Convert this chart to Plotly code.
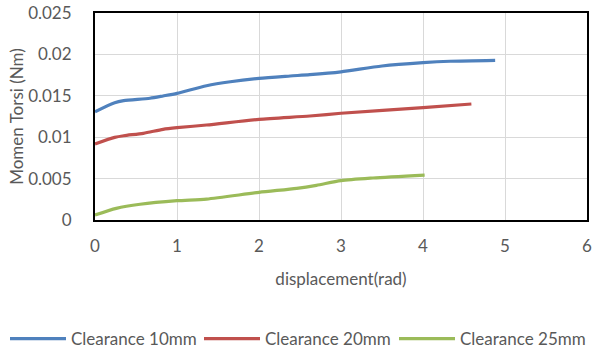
import plotly.graph_objects as go

# Displacement (rad) and torsional moment (Nm) for each clearance
x_10 = [0, 0.24, 0.35, 0.67, 0.83, 1.0, 1.36, 1.65, 2.0, 2.38, 2.62, 3.0, 3.5, 4.0, 4.33, 4.88]
y_10 = [0.01308, 0.01417, 0.01441, 0.0147, 0.01498, 0.0153, 0.01622, 0.0167, 0.01711, 0.01739,
        0.01755, 0.0179, 0.0186, 0.0190, 0.01917, 0.01928]

x_20 = [0, 0.24, 0.35, 0.59, 0.83, 1.0, 1.36, 2.0, 2.62, 3.0, 4.0, 4.59]
y_20 = [0.00918, 0.00998, 0.01018, 0.01047, 0.01095, 0.01115, 0.01147, 0.01216, 0.01256, 0.01289,
        0.01357, 0.01401]

x_25 = [0, 0.26, 0.55, 1.0, 1.36, 2.0, 2.46, 2.7, 3.0, 3.39, 4.02]
y_25 = [0.0006, 0.00141, 0.0019, 0.00233, 0.00253, 0.00334, 0.00383, 0.00419, 0.00475, 0.00507, 0.00543]

names = ["Clearance 10mm", "Clearance 20mm", "Clearance 25mm"]
colors = ["#4F81BD", "#C0504D", "#9BBB59"]

y_ticks = [0, 0.005, 0.01, 0.015, 0.02, 0.025]
y_tick_text = ["0", "0.005", "0.01", "0.015", "0.02", "0.025"]

txt = dict(family="Lato, Liberation Sans, sans-serif", size=17, color="#595959")

# one legend per series so the three entries sit side by side across the bottom
legend_ids = ["legend", "legend2", "legend3"]
legend_left = [5, 199, 394]

fig = go.Figure()
for xs, ys, name, color, lg in zip([x_10, x_20, x_25], [y_10, y_20, y_25], names, colors, legend_ids):
    fig.add_trace(go.Scatter(
        x=xs, y=ys, name=name, mode="lines", legend=lg,
        line=dict(color=color, width=3.2, shape="spline", smoothing=0.7),
    ))

legend_cfg = {}
for lg, left in zip(legend_ids, legend_left):
    legend_cfg[lg] = dict(orientation="h", xref="container", x=left / 594, xanchor="left",
                          yref="container", y=(348 - 339) / 348, yanchor="middle",
                          font=txt, itemwidth=56, bgcolor="rgba(0,0,0,0)")

fig.update_layout(
    width=594, height=348,
    margin=dict(l=95, r=7, t=13, b=128, autoexpand=False),
    paper_bgcolor="white", plot_bgcolor="white",
    font=txt,
    showlegend=True,
    **legend_cfg,
)
fig.update_xaxes(
    range=[0, 6], dtick=1, tick0=0,
    showgrid=True, gridcolor="#D9D9D9", gridwidth=1.3,
    showline=True, linecolor="black", linewidth=2, mirror=True,
    zeroline=False, ticks="", tickfont=txt, ticklabelstandoff=10,
    title=dict(text="displacement(rad)", font=txt, standoff=18),
)
fig.update_yaxes(
    range=[0, 0.025], tickvals=y_ticks, ticktext=y_tick_text,
    showgrid=True, gridcolor="#D9D9D9", gridwidth=1.3,
    showline=True, linecolor="black", linewidth=2, mirror=True,
    zeroline=False, ticks="", tickfont=txt, ticklabelstandoff=18,
    title=dict(text="Momen Torsi (Nm)", font=txt, standoff=0),
)

fig.write_html("out.html")
